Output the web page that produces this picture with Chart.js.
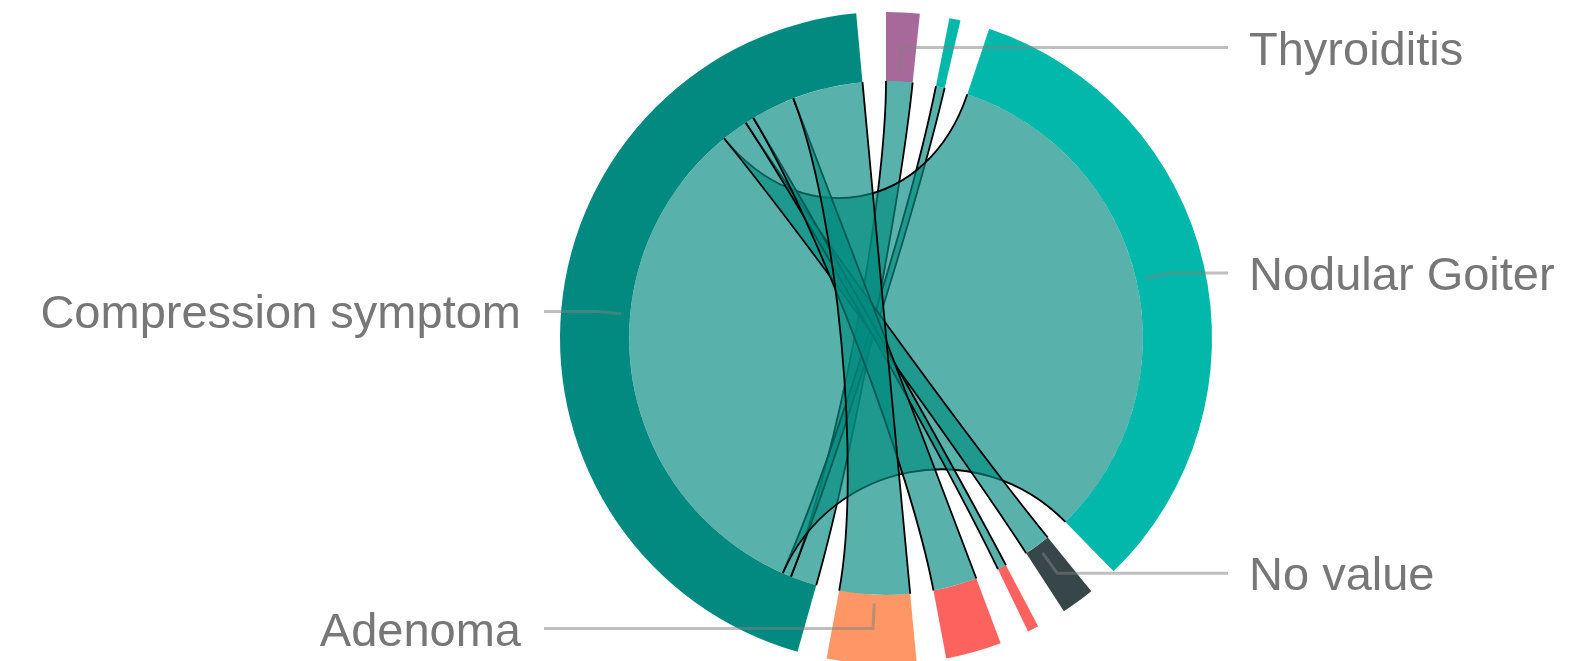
<!DOCTYPE html>
<html>
<head>
<meta charset="utf-8">
<title>Chord</title>
<script src="https://cdn.jsdelivr.net/npm/chart.js@4.4.1/dist/chart.umd.min.js"></script>
<style>
  html, body { margin:0; padding:0; background:#fff; }
</style>
</head>
<body>
<canvas id="chordChart" width="1579" height="661"></canvas>
<script>
/* ── Data ── */
// nodes clockwise from 12 o'clock; '' = category whose label is hidden
const NODES       = ['Thyroiditis', '', 'Nodular Goiter', 'No value', '', '', 'Adenoma', 'Compression symptom'];
const NODE_COLORS = ['#A66999', '#01B8AA', '#01B8AA', '#374649', '#FD625E', '#FD625E', '#FE9666', '#028A80'];

// every link runs from Compression symptom to one of the other nodes
const LINK_SOURCE  = 7;
const LINK_TARGETS = [0, 1, 2, 3, 4, 5, 6];
const LINK_VALUES  = [3, 1, 59, 3, 1, 5, 8];

/* ── Look ── */
const GAP_DEG     = 5.25;
const RIBBON_FILL = 'rgba(2,138,128,0.66)';
const LABEL_FONT  = '47px "Liberation Sans", Arial, sans-serif';

/* ── Build ring table ── */
const nodeValues = NODES.map(() => 0);
LINK_TARGETS.forEach((t, i) => {
  nodeValues[LINK_SOURCE] += LINK_VALUES[i];
  nodeValues[t] += LINK_VALUES[i];
});
const total = nodeValues.reduce((a, b) => a + b, 0);
const gapValue = GAP_DEG * total / (360 - NODES.length * GAP_DEG);

const ringData = [], ringColors = [];
nodeValues.forEach((v, i) => {
  ringData.push(v, gapValue);
  ringColors.push(NODE_COLORS[i], 'rgba(0,0,0,0)');
});

const nodeArcs = chart => {
  const meta = chart.getDatasetMeta(0);
  return NODES.map((_, i) => meta.data[i * 2]);
};

/* ── Ribbons ── */
const ribbonPlugin = {
  id: 'ribbons',
  afterDatasetsDraw(chart) {
    const ctx = chart.ctx;
    const arcs = nodeArcs(chart);
    const { x: cx, y: cy, innerRadius: r } = arcs[0];
    const K = 0.52;
    const pt = (a, k) => [cx + Math.cos(a) * r * k, cy + Math.sin(a) * r * k];
    const cursor = arcs.map(a => a.startAngle);
    const span = (n, v) => {
      const a = arcs[n];
      const a0 = cursor[n];
      const a1 = a0 + (a.endAngle - a.startAngle) * v / nodeValues[n];
      cursor[n] = a1;
      return [a0, a1];
    };

    ctx.save();
    LINK_TARGETS.forEach((t, i) => {
      const [s0, s1] = span(LINK_SOURCE, LINK_VALUES[i]);
      const [t0, t1] = span(t, LINK_VALUES[i]);
      // fill
      ctx.beginPath();
      ctx.arc(cx, cy, r, s0, s1);
      ctx.bezierCurveTo(...pt(s1, K), ...pt(t0, K), ...pt(t0, 1));
      ctx.arc(cx, cy, r, t0, t1);
      ctx.bezierCurveTo(...pt(t1, K), ...pt(s0, K), ...pt(s0, 1));
      ctx.closePath();
      ctx.fillStyle = RIBBON_FILL;
      ctx.fill();
      // outline only the two curved sides
      ctx.beginPath();
      ctx.moveTo(...pt(s1, 1));
      ctx.bezierCurveTo(...pt(s1, K), ...pt(t0, K), ...pt(t0, 1));
      ctx.moveTo(...pt(t1, 1));
      ctx.bezierCurveTo(...pt(t1, K), ...pt(s0, K), ...pt(s0, 1));
      ctx.lineWidth = 1.8;
      ctx.strokeStyle = '#000';
      ctx.stroke();
    });
    ctx.restore();
  }
};

/* ── Labels with leader lines ── */
const labelPlugin = {
  id: 'chordLabels',
  afterDraw(chart) {
    const ctx = chart.ctx;
    const arcs = nodeArcs(chart);
    ctx.save();
    ctx.font = LABEL_FONT;
    ctx.lineWidth = 3;
    ctx.strokeStyle = 'rgba(128,128,128,0.5)';
    ctx.fillStyle = '#777777';
    arcs.forEach((a, i) => {
      if (!NODES[i]) return;
      const mid = (a.startAngle + a.endAngle) / 2;
      const r0 = a.innerRadius + 9, r1 = a.innerRadius + 34;
      const x0 = a.x + Math.cos(mid) * r0, y0 = a.y + Math.sin(mid) * r0;
      const x1 = a.x + Math.cos(mid) * r1, y1 = a.y + Math.sin(mid) * r1;
      const right = Math.cos(mid) >= 0;
      const x2 = a.x + (right ? 342 : -342);
      ctx.beginPath();
      ctx.moveTo(x0, y0);
      ctx.lineTo(x1, y1);
      ctx.lineTo(x2, y1);
      ctx.stroke();
      ctx.textAlign = right ? 'left' : 'right';
      ctx.textBaseline = 'alphabetic';
      ctx.fillText(NODES[i], a.x + (right ? 363 : -365), y1 + 17);
    });
    ctx.restore();
  }
};

new Chart(document.getElementById('chordChart').getContext('2d'), {
  type: 'doughnut',
  data: {
    labels: NODES.flatMap(n => [n, '']),
    datasets: [{ data: ringData, backgroundColor: ringColors, borderWidth: 0, radius: 326, cutout: '78.8%' }]
  },
  options: {
    responsive: false,
    animation: false,
    events: [],
    layout: { padding: { top: 15, bottom: 0, left: 193, right: 0 } },
    plugins: { legend: { display: false }, tooltip: { enabled: false } }
  },
  plugins: [ribbonPlugin, labelPlugin]
});
</script>
</body>
</html>
